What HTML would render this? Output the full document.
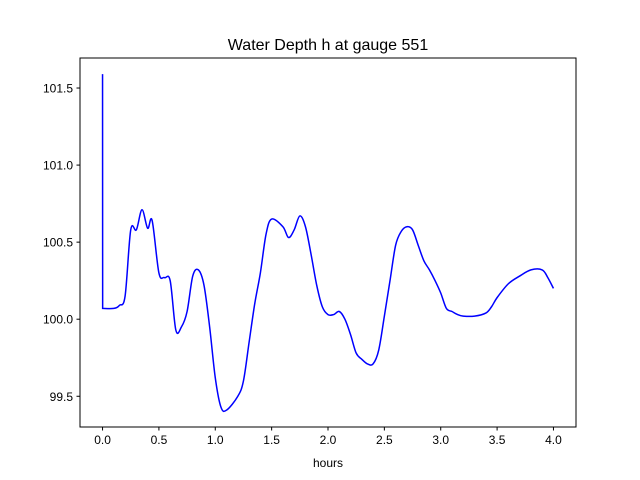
<!DOCTYPE html>
<html><head><meta charset="utf-8"><style>
body{margin:0;background:#fff;}
svg{display:block;font-family:"Liberation Sans","DejaVu Sans",sans-serif;}
</style></head><body>
<svg id="chart" width="640" height="480" viewBox="0 0 640 480">
<rect width="640" height="480" fill="#fff"/>
<text x="328" y="50" font-size="16" text-anchor="middle">Water Depth h at gauge 551</text>
<g id="plot"></g>
<rect x="80" y="58" width="496" height="369" fill="none" stroke="#000" stroke-width="1"/>
<text x="328" y="467" font-size="12" text-anchor="middle">hours</text>
</svg>
<script>
const xs = [0,0.001,0.1,0.15,0.2,0.25,0.3,0.35,0.4,0.44,0.5,0.55,0.6,0.65,0.7,0.75,0.8,0.85,0.9,0.95,1.0,1.05,1.1,1.2,1.25,1.3,1.35,1.4,1.45,1.5,1.6,1.65,1.7,1.75,1.8,1.85,1.9,1.95,2.0,2.05,2.1,2.15,2.2,2.25,2.3,2.35,2.4,2.45,2.5,2.55,2.6,2.65,2.7,2.75,2.8,2.85,2.9,2.95,3.0,3.05,3.1,3.15,3.2,3.3,3.4,3.45,3.5,3.6,3.7,3.8,3.9,3.95,4.0];
const depth = [101.59,100.07,100.07,100.09,100.15,100.58,100.58,100.71,100.59,100.64,100.30,100.27,100.25,99.93,99.95,100.05,100.28,100.32,100.22,99.95,99.62,99.43,99.41,99.50,99.60,99.85,100.10,100.30,100.55,100.65,100.60,100.53,100.58,100.67,100.60,100.42,100.22,100.08,100.03,100.03,100.05,100.00,99.90,99.78,99.74,99.71,99.71,99.80,100.02,100.25,100.48,100.57,100.60,100.58,100.48,100.38,100.32,100.25,100.17,100.07,100.05,100.03,100.02,100.02,100.04,100.08,100.14,100.23,100.28,100.32,100.32,100.27,100.20];
const xTicks = [0.0,0.5,1.0,1.5,2.0,2.5,3.0,3.5,4.0];
const xTickLabels = ["0.0","0.5","1.0","1.5","2.0","2.5","3.0","3.5","4.0"];
const yTicks = [99.5,100.0,100.5,101.0,101.5];
const yTickLabels = ["99.5","100.0","100.5","101.0","101.5"];

const X0=80,X1=576,Y0=58,Y1=427;
const xMin=-0.2,xMax=4.2,yMin=99.3006,yMax=101.6948;
const sx=v=>X0+(v-xMin)/(xMax-xMin)*(X1-X0);
const sy=v=>Y1-(v-yMin)/(yMax-yMin)*(Y1-Y0);
const NS="http://www.w3.org/2000/svg";
const g=document.getElementById('plot');
function mk(t,a){const e=document.createElementNS(NS,t);for(const k in a)e.setAttribute(k,a[k]);return e;}

xTicks.forEach((t,i)=>{
  const x=sx(t);
  const l=mk('line',{x1:x,x2:x,y1:Y1,y2:Y1+3.5,stroke:'#000'});
  
  
  g.appendChild(l);
  const tx=mk('text',{x:x,y:Y1+17,'font-size':12,'text-anchor':'middle'});
  
  
  tx.textContent=xTickLabels[i];g.appendChild(tx);
});
yTicks.forEach((t,i)=>{
  const y=sy(t);
  const l=mk('line',{x1:X0-3.5,x2:X0,y1:y,y2:y,stroke:'#000'});
  
  
  g.appendChild(l);
  const tx=mk('text',{x:X0-7,y:y+4.5,'font-size':12,'text-anchor':'end'});
  
  
  tx.textContent=yTickLabels[i];g.appendChild(tx);
});
// smooth path (Catmull-Rom), keep initial spike straight
const P=xs.map((x,i)=>[sx(x),sy(depth[i])]);
let d=`M${P[0][0]},${P[0][1]} L${P[1][0]},${P[1][1]}`;
for(let i=1;i<P.length-1;i++){
  const p0=P[Math.max(1,i-1)],p1=P[i],p2=P[i+1],p3=P[Math.min(P.length-1,i+2)];
  const c1=[p1[0]+(p2[0]-p0[0])/6,p1[1]+(p2[1]-p0[1])/6];
  const c2=[p2[0]-(p3[0]-p1[0])/6,p2[1]-(p3[1]-p1[1])/6];
  d+=` C${c1[0]},${c1[1]} ${c2[0]},${c2[1]} ${p2[0]},${p2[1]}`;
}
const path=mk('path',{d:d,fill:'none',stroke:'#0000ff','stroke-width':1.5});


g.appendChild(path);
</script>
</body></html>
